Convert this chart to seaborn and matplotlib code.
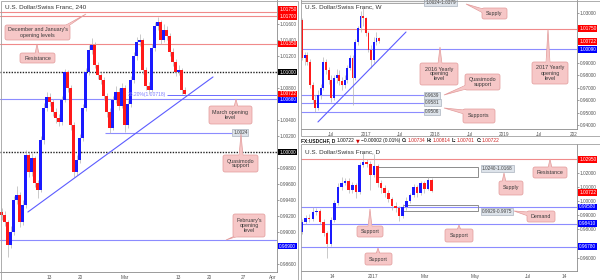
import matplotlib
matplotlib.use("Agg")
import matplotlib.pyplot as plt
import seaborn as sns
import numpy as np
import pandas as pd
from matplotlib.patches import Rectangle, FancyBboxPatch, Polygon
from matplotlib.transforms import Affine2D, blended_transform_factory, offset_copy

# ------------------------------------------------------------------ data
# 4H panel (one candle per half trading day, from early February)
h4_first_open = 0.99250
h4_close = [0.99213, 0.99125, 0.98838, 0.99000, 0.99400, 0.99463, 0.99125, 0.99338, 0.99963, 0.99750,
            0.99925, 0.99613, 0.99525, 1.00150, 1.00550, 1.00688, 1.00625, 1.00500, 1.00425, 1.00375,
            1.00650, 1.01000, 1.00800, 1.00338, 0.99750, 0.99900, 1.00175, 1.00550, 1.01000, 1.01275,
            1.01338, 1.01088, 1.00963, 1.00900, 1.00700, 1.00500, 1.00300, 1.00650, 1.00750, 1.00575,
            1.00800, 1.00338, 1.00600, 1.00900, 1.01200, 1.01375, 1.01400, 1.01025, 1.00825, 1.00775,
            1.01300, 1.01575, 1.01625, 1.01400, 1.01525, 1.01450, 1.01250, 1.01125, 1.01000, 1.01025,
            1.00775, 1.00722]
h4_high = [0.99300, 0.99262, 0.99150, 0.99075, 0.99450, 0.99575, 0.99500, 0.99400, 1.00025, 1.00000,
           0.99988, 0.99950, 0.99650, 1.00200, 1.00612, 1.00750, 1.00738, 1.00662, 1.00550, 1.00475,
           1.00700, 1.01038, 1.01025, 1.00838, 1.00375, 0.99962, 1.00225, 1.00600, 1.01050, 1.01338,
           1.01425, 1.01375, 1.01125, 1.01000, 1.00938, 1.00738, 1.00550, 1.00700, 1.00825, 1.00800,
           1.00862, 1.00838, 1.00650, 1.00950, 1.01250, 1.01438, 1.01475, 1.01425, 1.01062, 1.00875,
           1.01350, 1.01625, 1.01688, 1.01650, 1.01600, 1.01575, 1.01488, 1.01300, 1.01162, 1.01088,
           1.01050, 1.00814]
h4_low = [0.99150, 0.99075, 0.98688, 0.98800, 0.98962, 0.99350, 0.99062, 0.99088, 0.99300, 0.99688,
          0.99700, 0.99563, 0.99425, 0.99500, 1.00100, 1.00512, 1.00575, 1.00450, 1.00362, 1.00325,
          1.00338, 1.00625, 1.00750, 1.00275, 0.99688, 0.99712, 0.99862, 1.00138, 1.00512, 1.00962,
          1.01225, 1.01050, 1.00912, 1.00850, 1.00650, 1.00438, 1.00238, 1.00275, 1.00612, 1.00525,
          1.00550, 1.00250, 1.00300, 1.00562, 1.00862, 1.01150, 1.01325, 1.00975, 1.00775, 1.00725,
          1.00750, 1.01262, 1.01525, 1.01350, 1.01375, 1.01400, 1.01200, 1.01075, 1.00950, 1.00962,
          1.00725, 1.00701]
h4_red_levels = [1.01750, 1.01700, 1.01350]
h4_black_levels = [1.01000, 1.00000]
h4_blue_levels = [1.00660, 0.98900]
h4_qm_level = 1.0024
h4_fib_level = 1.00718
h4_trend_x = [8.8, 70.5]
h4_trend_y = [0.99250, 1.00938]
h4_yticks = [0.986, 0.990, 0.992, 0.994, 0.996, 0.998, 1.002, 1.004, 1.008, 1.012, 1.014, 1.016]
h4_xtick_pos = [15.8, 26.2, 41.2, 58.8, 69.2, 80.5, 90.5]
h4_xtick_labels = ["13", "20", "Mar", "13", "20", "27", "Apr"]

# Weekly panel (x in weeks)
w_first_open = 1.0245
w_close = [0.9940, 0.9964, 0.9908, 0.9723, 0.9603, 0.9538, 0.9643, 0.9699, 0.9908, 0.9843,
           0.9763, 0.9619, 0.9778, 0.9802, 0.9754, 0.9723, 0.9763, 0.9859, 0.9940, 0.9778,
           1.0068, 1.0181, 1.0277, 1.0261, 1.0141, 1.0004, 0.9924, 1.0068, 1.0100, 1.0072]
w_high = [1.0257, 0.9990, 0.9990, 0.9930, 0.9745, 0.9640, 0.9680, 0.9730, 0.9950, 0.9930,
          0.9870, 0.9800, 0.9800, 0.9850, 0.9840, 0.9790, 0.9800, 0.9880, 0.9960, 0.9960,
          1.0090, 1.0200, 1.0320, 1.0344, 1.0270, 1.0160, 1.0040, 1.0110, 1.0150, 1.0110]
w_low = [0.9920, 0.9880, 0.9880, 0.9700, 0.9580, 0.9506, 0.9520, 0.9610, 0.9680, 0.9810,
         0.9730, 0.9586, 0.9600, 0.9740, 0.9720, 0.9680, 0.9700, 0.9740, 0.9840, 0.9562,
         0.9760, 1.0040, 1.0150, 1.0200, 1.0120, 0.9990, 0.9862, 0.9900, 1.0040, 1.0060]
w_red_levels = [1.0175]
w_blue_levels = [1.0009]
w_support_levels = [0.9639, 0.9581, 0.9506]
w_supply_zone = (1.0379, 1.0624)
w_trend_x = [12.0, 78.2]
w_trend_y = [0.9426, 1.0148]
w_yticks = [0.94, 0.95, 0.96, 0.97, 0.98, 0.99, 1.03]
w_xtick_pos = [22, 48, 74, 100, 126, 152, 178, 204]
w_xtick_labels = ["Jul", "2017", "Jul", "2018", "Jul", "2019", "Jul", "202"]

# Daily panel (x in trading days)
d_first_open = 0.9784
d_close = [0.9855, 0.9878, 0.9871, 0.9925, 0.9932, 0.9855, 0.9772, 0.9697, 0.9866, 0.9984,
           1.0102, 1.0130, 1.0144, 1.0078, 1.0114, 1.0067, 1.0255, 1.0279, 1.0262, 1.0184,
           1.0248, 1.0125, 1.0090, 1.0060, 1.0012, 0.9965, 0.9949, 0.9895, 0.9961, 1.0003,
           1.0043, 1.0102, 1.0060, 1.0130, 1.0083, 1.0149, 1.0072]
d_high = [0.9870, 0.9900, 0.9905, 0.9958, 0.9950, 0.9945, 0.9870, 0.9790, 0.9885, 1.0010,
          1.0130, 1.0170, 1.0165, 1.0160, 1.0135, 1.0125, 1.0275, 1.0344, 1.0300, 1.0285,
          1.0335, 1.0260, 1.0150, 1.0110, 1.0080, 1.0030, 0.9990, 0.9965, 0.9980, 1.0030,
          1.0060, 1.0120, 1.0110, 1.0145, 1.0140, 1.0170, 1.0160]
d_low = [0.9770, 0.9840, 0.9850, 0.9860, 0.9900, 0.9835, 0.9750, 0.9600, 0.9680, 0.9850,
         0.9970, 1.0080, 1.0110, 1.0060, 1.0060, 1.0020, 1.0050, 1.0240, 1.0240, 1.0080,
         1.0170, 1.0100, 1.0060, 1.0030, 0.9990, 0.9940, 0.9920, 0.9862, 0.9880, 0.9940,
         0.9985, 1.0030, 1.0030, 1.0040, 1.0060, 1.0075, 1.0065]
d_red_levels = [1.0295]
d_blue_levels = [0.9958, 0.9841, 0.9678]
d_supply_zone = (1.0168, 1.0240)
d_demand_zone = (0.9929, 0.9975)
d_yticks = [0.96, 0.98, 0.99, 1.00, 1.01, 1.02]
d_xtick_pos = [25, 59, 102, 144, 188, 219]
d_xtick_labels = ["14", "2017", "Mar", "May", "Jul", "14"]

# ------------------------------------------------------------------ style
sns.set_theme(style="white")
plt.rcParams['font.family'] = ['Liberation Sans', 'DejaVu Sans']
plt.rcParams['axes.facecolor'] = 'white'

UP, DN, WICK = '#1a1aff', '#ff1a1a', '#b3b3b3'
RED_LINE, BLUE_LINE, TREND = '#f08a8a', '#8c8cff', '#5c5cff'
PINK, PINK_EDGE = '#f6c7c7', '#e29a9a'
TAG_RED, TAG_BLUE, TAG_BLACK = '#ff0000', '#0000ff', '#000000'

W, H = 600, 280
fig = plt.figure(figsize=(6, 2.8), dpi=100)
fig.patch.set_facecolor('white')
PX = Affine2D().scale(1 / W, -1 / H).translate(0, 1) + fig.transFigure


def px_axes(x0, y0, x1, y1):
    return fig.add_axes([x0 / W, 1 - y1 / H, (x1 - x0) / W, (y1 - y0) / H])


def style_axes(ax, xlim, ylim, yticks, xpos, xlabels):
    ax.set_xlim(*xlim)
    ax.set_ylim(*ylim)
    ax.yaxis.tick_right()
    ax.set_yticks(yticks)
    ax.set_yticklabels([f"{v:.5f}" for v in yticks])
    ax.set_xticks(xpos)
    ax.set_xticklabels(xlabels)
    ax.tick_params(axis='both', labelsize=3.4, colors='#555555', length=1.2, width=0.4, pad=1.0)
    ax.set_xlabel('')
    ax.set_ylabel('')
    for s in ['top', 'left']:
        ax.spines[s].set_visible(False)
    for s in ['right', 'bottom']:
        ax.spines[s].set_color('#8a8a8a')
        ax.spines[s].set_linewidth(0.6)
    ax.grid(False)


def candles(ax, x, first_open, close, high, low, width, hpx):
    df = pd.DataFrame(dict(x=x, c=close, h=high, l=low))
    df['o'] = [first_open] + list(df.c[:-1])
    ylo, yhi = ax.get_ylim()
    min_h = 0.8 * (yhi - ylo) / hpx
    ax.vlines(df.x, df.l, df.h, color=WICK, lw=0.5, zorder=3)
    colors = np.where(df.c >= df.o, UP, DN)
    bottom = np.minimum(df.o, df.c)
    height = np.maximum(np.abs(df.c - df.o), min_h)
    ax.bar(df.x, height, width, bottom, color=colors, lw=0, zorder=4)


def price_tag(ax, v, fc, dy=0.0, text=None):
    tr = offset_copy(blended_transform_factory(ax.transAxes, ax.transData), fig=fig,
                     x=2.2, y=-dy, units='dots')
    ax.text(1.0, v, text or f"{v:.5f}", transform=tr, ha='left', va='center', fontsize=3.4,
            color='white', clip_on=False, zorder=20,
            bbox=dict(boxstyle='square,pad=0.15', fc=fc, ec='none'))


def grey_tag(ax, x, v, text):
    ax.text(x, v, text, ha='left', va='center', fontsize=3.4, color='#444444', zorder=15,
            clip_on=False,
            bbox=dict(boxstyle='square,pad=0.2', fc='#dde3ea', ec='#9aa4b0', lw=0.4))


def callout(text, box, tip, side, fs=3.9):
    x0, y0, x1, y1 = box
    tx, ty = tip
    hw = 2.0
    if side in ('top', 'bottom'):
        bx = min(max(tx, x0 + 4), x1 - 4)
        ey = y0 if side == 'top' else y1
        inset = 1.2 if side == 'top' else -1.2
        base = [(bx - hw, ey + inset), (bx + hw, ey + inset)]
    else:
        by = min(max(ty, y0 + 3), y1 - 3)
        ex = x0 if side == 'left' else x1
        inset = 1.2 if side == 'left' else -1.2
        base = [(ex + inset, by - hw), (ex + inset, by + hw)]
    tri = [base[0], (tx, ty), base[1]]
    mx = (base[0][0] + base[1][0]) / 2
    my = (base[0][1] + base[1][1]) / 2
    inner_tip = (mx + 0.45 * (tx - mx), my + 0.45 * (ty - my))
    fig.add_artist(Polygon(tri, closed=True, transform=PX, fc=PINK, ec=PINK_EDGE, lw=0.5))
    fig.add_artist(FancyBboxPatch((x0, y0), x1 - x0, y1 - y0,
                                  boxstyle='round,pad=0,rounding_size=2', transform=PX,
                                  fc=PINK, ec=PINK_EDGE, lw=0.5))
    fig.add_artist(Polygon([base[0], inner_tip, base[1]], closed=True, transform=PX,
                           fc=PINK, ec='none'))
    fig.text((x0 + x1) / 2, (y0 + y1) / 2, text, transform=PX, ha='center', va='center',
             fontsize=fs, color='#3a3a3a', linespacing=1.0, zorder=5)


# ------------------------------------------------------------------ 4H panel
ax1 = px_axes(0, 0, 277, 272)
style_axes(ax1, (-0.5, 91.83), (0.985, 1.019), h4_yticks, h4_xtick_pos, h4_xtick_labels)
for v in h4_red_levels:
    ax1.axhline(v, color=RED_LINE, lw=0.8, zorder=2)
for v in h4_black_levels:
    ax1.axhline(v, color='#222222', lw=1.0, ls=(0, (1, 1)), zorder=2)
for v in h4_blue_levels:
    ax1.axhline(v, color=BLUE_LINE, lw=0.8, zorder=2)
ax1.hlines(h4_qm_level, 34.5, 76.8, color=BLUE_LINE, lw=0.8, zorder=2)
ax1.hlines(h4_fib_level, 55.0, 91.83, color='#6a6aff', lw=0.7, zorder=2)
ax1.text(55.0, h4_fib_level, "38.20%(1.00718)", ha='right', va='center', fontsize=3.6,
         color='#7a7aff', zorder=6)
sns.lineplot(x=h4_trend_x, y=h4_trend_y, ax=ax1, color=TREND, lw=0.8, zorder=5)
ax1.set_xlim(-0.5, 91.83)
candles(ax1, np.arange(len(h4_close)), h4_first_open, h4_close, h4_high, h4_low, 0.73, 272)
grey_tag(ax1, 77.2, h4_qm_level, "1.0024")
price_tag(ax1, 1.01750, TAG_RED, dy=-2.5)
price_tag(ax1, 1.01700, TAG_RED, dy=0.5)
price_tag(ax1, 1.01350, TAG_RED)
price_tag(ax1, 1.01000, TAG_BLACK)
price_tag(ax1, 1.00722, TAG_RED, dy=-0.3)
price_tag(ax1, 1.00660, TAG_BLUE, dy=0.6)
price_tag(ax1, 1.00000, TAG_BLACK)
price_tag(ax1, 0.98900, TAG_BLUE, dy=6.0)
style_axes(ax1, (-0.5, 91.83), (0.985, 1.019), h4_yticks, h4_xtick_pos, h4_xtick_labels)

# ------------------------------------------------------------------ Weekly panel
ax2 = px_axes(301, 0, 577, 129)
w_xlim = (-0.75, 206.8)
w_ylim = (0.93694, 1.0405)
style_axes(ax2, w_xlim, w_ylim, w_yticks, w_xtick_pos, w_xtick_labels)
for v in w_red_levels:
    ax2.axhline(v, color=RED_LINE, lw=0.8, zorder=2)
for v in w_blue_levels:
    ax2.axhline(v, color=BLUE_LINE, lw=0.8, zorder=2)
for v in w_support_levels:
    ax2.hlines(v, -0.75, 92.0, color=BLUE_LINE, lw=0.8, zorder=2)
ax2.add_patch(Rectangle((-0.75, w_supply_zone[0]), 92.8, w_supply_zone[1] - w_supply_zone[0],
                        fc='#f4f4f4', ec='#9a9a9a', lw=0.6, zorder=1))
sns.lineplot(x=w_trend_x, y=w_trend_y, ax=ax2, color=TREND, lw=0.8, zorder=5)
candles(ax2, np.arange(len(w_close)) * 2, w_first_open, w_close, w_high, w_low, 1.43, 129)
for v in w_support_levels:
    grey_tag(ax2, 92.6, v, f"{v:.4f}")
grey_tag(ax2, 92.6, 1.0386, "1.0624-1.0379")
price_tag(ax2, 1.01750, TAG_RED)
price_tag(ax2, 1.00722, TAG_RED)
price_tag(ax2, 1.00090, TAG_BLUE)
style_axes(ax2, w_xlim, w_ylim, w_yticks, w_xtick_pos, w_xtick_labels)

# ------------------------------------------------------------------ Daily panel
ax3 = px_axes(301, 144, 577, 271)
d_xlim = (-0.83, 229.2)
d_ylim = (0.95056, 1.04031)
style_axes(ax3, d_xlim, d_ylim, d_yticks, d_xtick_pos, d_xtick_labels)
for v in d_red_levels:
    ax3.axhline(v, color=RED_LINE, lw=0.8, zorder=2)
for v in d_blue_levels:
    ax3.axhline(v, color=BLUE_LINE, lw=0.8, zorder=2)
ax3.add_patch(Rectangle((63.3, d_supply_zone[0]), 83.4, d_supply_zone[1] - d_supply_zone[0],
                        fc='none', ec='#8c8c8c', lw=0.7, zorder=3))
ax3.add_patch(Rectangle((84.2, d_demand_zone[0]), 62.5, d_demand_zone[1] - d_demand_zone[0],
                        fc='none', ec='#8c8c8c', lw=0.7, zorder=3))
candles(ax3, np.arange(len(d_close)) * 3, d_first_open, d_close, d_high, d_low, 2.15, 127)
grey_tag(ax3, 150.0, 1.0233, "1.0240-1.0168")
grey_tag(ax3, 150.0, 0.9923, "0.9929-0.9975")
price_tag(ax3, 1.02950, TAG_RED)
price_tag(ax3, 1.00722, TAG_RED, dy=1.8)
price_tag(ax3, 0.99580, TAG_BLUE)
price_tag(ax3, 0.98410, TAG_BLUE)
price_tag(ax3, 0.96780, TAG_BLUE)
style_axes(ax3, d_xlim, d_ylim, d_yticks, d_xtick_pos, d_xtick_labels)

# ------------------------------------------------------------------ frames & titles
for (x0, y0, w, h) in [(0.5, 0.5, 297, 279), (300.5, 0.5, 299, 135.5), (300.5, 144, 299, 135.5)]:
    fig.add_artist(Rectangle((x0, y0), w, h, transform=PX, fill=False, ec='#a0a0a0', lw=0.6))

title_kw = dict(transform=PX, fontsize=4.6, color='#333333', ha='left', va='center')
fig.text(5, 7, "U.S. Dollar/Swiss Franc, 240", **title_kw)
fig.text(305, 7, "U.S. Dollar/Swiss Franc, W", **title_kw)
fig.text(305, 152, "U.S. Dollar/Swiss Franc, D", **title_kw)

# header line between the two right-hand panels, laid out piece by piece
hdr = [("FX:USDCHF, D", '#111111', 'bold', 1.6), ("1.00722", '#111111', 'normal', 1.2),
       ("\u25BC", '#cc0000', 'normal', 0.8), ("\u22120.00002 (0.01%)", '#111111', 'normal', 1.6),
       ("O:", '#111111', 'bold', 0.4), ("1.00734", '#cc2222', 'normal', 1.6),
       ("H:", '#111111', 'bold', 0.4), ("1.00814", '#cc2222', 'normal', 1.6),
       ("L:", '#111111', 'bold', 0.4), ("1.00701", '#cc2222', 'normal', 1.6),
       ("C:", '#111111', 'bold', 0.4), ("1.00722", '#cc2222', 'normal', 1.6)]
renderer = fig.canvas.get_renderer()
hx = 301.0
for s, col, wt, gap in hdr:
    fam = ['DejaVu Sans'] if s == "\u25BC" else ['Liberation Sans', 'DejaVu Sans']
    t = fig.text(hx, 140.5, s, transform=PX, fontsize=3.5, color=col, fontweight=wt,
                 ha='left', va='center', family=fam)
    hx += t.get_window_extent(renderer).width + gap

# ------------------------------------------------------------------ callouts
callouts = [
    ("December and January's\nopening levels", (5, 25, 70, 40), (86, 14), 'top'),
    ("Resistance", (20, 53, 55, 63), (37, 44), 'top'),
    ("March opening\nlevel", (209, 106, 252, 124), (236, 99), 'top'),
    ("Quasimodo\nsupport", (223, 155, 258, 172), (241, 134), 'top'),
    ("February's\nopening\nlevel", (233, 214, 265, 237), (226, 240), 'bottom'),
    ("Supply", (482, 8, 507, 19), (466, 4), 'left'),
    ("2016 Yearly\nopening\nlevel", (420, 63, 458, 85), (440, 47), 'top'),
    ("2017 Yearly\nopening\nlevel", (532, 62, 568, 84), (548, 29), 'top'),
    ("Quasimodo\nsupport", (465, 74, 500, 90), (444, 95), 'left'),
    ("Supports", (463, 109, 495, 123), (444, 108), 'left'),
    ("Supply", (499, 181, 523, 195), (504, 173), 'top'),
    ("Resistance", (533, 167, 567, 178), (550, 159), 'top'),
    ("Demand", (527, 211, 555, 222), (514, 211), 'left'),
    ("Support", (357, 226, 383, 237), (370, 209), 'top'),
    ("Support", (445, 229, 473, 242), (459, 225), 'top'),
    ("Support", (365, 253, 392, 265), (378, 248), 'top'),
]
for text, box, tip, side in callouts:
    callout(text, box, tip, side)

fig.savefig("out.png", dpi=100, facecolor='white')
